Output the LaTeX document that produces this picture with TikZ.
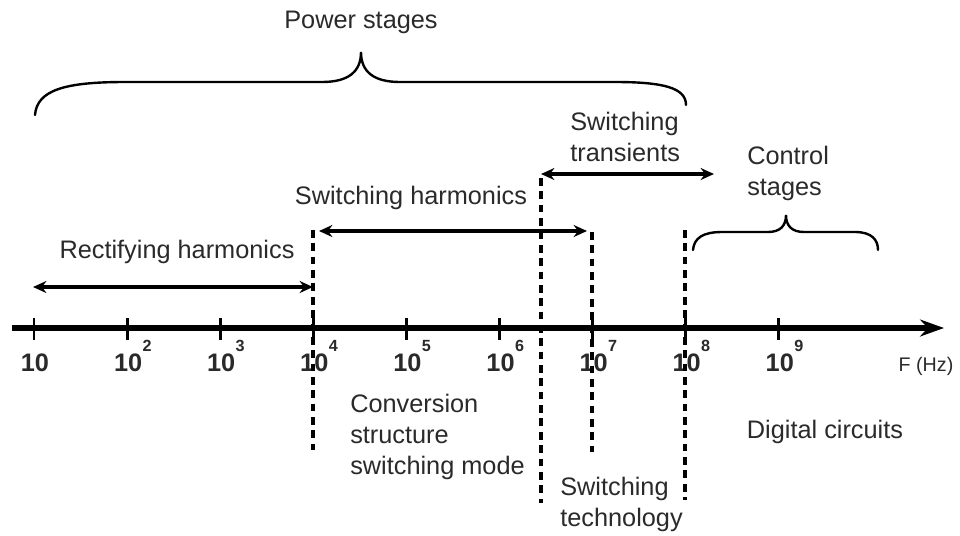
\documentclass[tikz,border=0pt]{standalone}
\usepackage{fontspec}
\setmainfont{Liberation Sans}
\usetikzlibrary{arrows.meta, calc}
\definecolor{inkgray}{HTML}{2a2a2a}

\begin{document}
\begin{tikzpicture}[x=0.025cm, y=-0.025cm,
  lbl/.style={font=\fontsize{18}{22}\selectfont, text=inkgray, inner sep=0pt, align=left},
  dec/.style={font=\fontsize{18}{20}\selectfont\bfseries, text=inkgray, inner sep=0pt},
  expo/.style={font=\fontsize{11.5}{12}\selectfont\bfseries, text=inkgray, inner sep=0pt},
  arr/.style={{Stealth[length=9.5pt,width=8.5pt]}-{Stealth[length=9.5pt,width=8.5pt]}, line width=2.2pt},
  axis/.style={-{Stealth[length=17pt,width=12pt]}, line width=4.3pt},
  tk/.style={line width=2pt},
  sep/.style={line width=2.4pt, dash pattern=on 5.5pt off 4pt},
  brace/.style={line width=1.7pt, line cap=round}
]
\fill[white] (0,0) rectangle (960,535);
\useasboundingbox (0,0) rectangle (960,535);

% frequency axis
\coordinate (a0) at (12,328);
\coordinate (a1) at (944,328);
\draw[axis] (a0) -- (a1);
\foreach \i in {1,...,9} {
  \coordinate (t\i) at ({34+93.1*(\i-1)},328);
  \draw[tk] ($(t\i)+(0,-10)$) -- ($(t\i)+(0,12)$);
  \node[dec] (d\i) at ($(t\i)+(1,35)$) {10};
}
\foreach \i in {2,...,9}
  \node[expo] (e\i) at ($(t\i)+(20,18)$) {\i};
\node[font=\fontsize{14}{16}\selectfont, text=inkgray, inner sep=0pt] (fhz) at (926,366) {F (Hz)};

% separators
\coordinate (s1a) at (313,230); \coordinate (s1b) at (313,450);
\coordinate (s2a) at (541,178); \coordinate (s2b) at (541,503);
\coordinate (s3a) at (592,232); \coordinate (s3b) at (592,452);
\coordinate (s4a) at (685,230); \coordinate (s4b) at (685,500);
\draw[sep] (s1a) -- (s1b);
\draw[sep] (s2a) -- (s2b);
\draw[sep] (s3a) -- (s3b);
\draw[sep] (s4a) -- (s4b);

% ranges
\coordinate (r1) at (33,287);  \coordinate (r2) at (313,287);
\coordinate (h1) at (319,231); \coordinate (h2) at (587,231);
\coordinate (w1) at (541,174); \coordinate (w2) at (714,174);
\draw[arr] (r1) -- (r2);
\draw[arr] (h1) -- (h2);
\draw[arr] (w1) -- (w2);

% braces
\coordinate (pb1) at (35,115); \coordinate (pbt) at (361,52); \coordinate (pb2) at (686,105);
\draw[brace] (pb1) .. controls (37,90) and (65,82) .. (125,82) -- (322,82)
  .. controls (348,82) and (361,72) .. (pbt)
  .. controls (361,72) and (374,82) .. (400,82) -- (615,82)
  .. controls (664,82) and (686,88) .. (pb2);
\coordinate (cb1) at (693,250); \coordinate (cbt) at (786,215); \coordinate (cb2) at (878,250);
\draw[brace] (cb1) .. controls (694,238) and (703,232) .. (722,232) -- (768,232)
  .. controls (780,232) and (786,226) .. (cbt)
  .. controls (786,226) and (792,232) .. (804,232) -- (855,232)
  .. controls (872,232) and (878,240) .. (cb2);

% labels
\node[lbl] (pwr) at (361,22) {Power stages};
\node[lbl, anchor=west] (swtr) at (570,137) {Switching\\transients};
\node[lbl, anchor=west] (ctrl) at (747,173) {Control\\stages};
\node[lbl] (swh) at (411,198) {Switching harmonics};
\node[lbl] (rect) at (177,252) {Rectifying harmonics};
\node[lbl, anchor=west] (conv) at (350,437) {Conversion\\structure\\switching mode};
\node[lbl, anchor=west] (swtech) at (560,504) {Switching\\technology};
\node[lbl] (dig) at (825,432) {Digital circuits};
\end{tikzpicture}
\end{document}
